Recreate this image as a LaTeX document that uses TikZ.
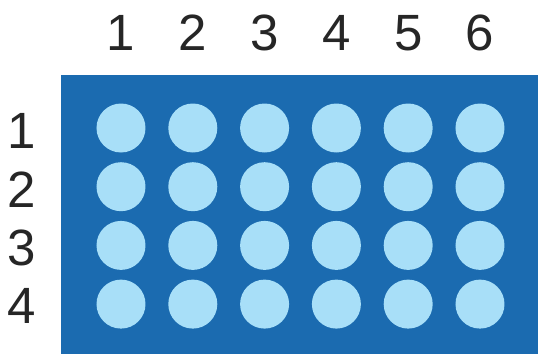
\documentclass[tikz,border=0pt]{standalone}
\usepackage{fontspec}
\setmainfont{Liberation Sans}
\usepackage{tikz}
\usetikzlibrary{positioning}

\definecolor{plateblue}{RGB}{27,107,176}
\definecolor{wellblue}{RGB}{168,223,248}

\begin{document}
\begin{tikzpicture}[x=0.5pt,y=-0.5pt,
    well/.style={circle,fill=wellblue,inner sep=0pt,minimum size=24.5pt},
    idx/.style={font=\fontsize{25.5}{30}\selectfont,text=black!85,inner sep=0pt}]
  \useasboundingbox (0,0) rectangle (538,354);
  % plate body
  \fill[plateblue] (61,75) rectangle (538,354);
  % column numbers and wells
  \foreach \c in {1,...,6} {
    \node[idx] (col\c) at ({121+71.8*(\c-1)},33) {\c};
    \foreach \r in {1,...,4}
      \node[well] (well\r\c) at ({121+71.8*(\c-1)},{128+58.7*(\r-1)}) {};
  }
  % row numbers
  \foreach \r in {1,...,4}
    \node[idx] (row\r) at (22,{131+58.3*(\r-1)}) {\r};
\end{tikzpicture}
\end{document}
